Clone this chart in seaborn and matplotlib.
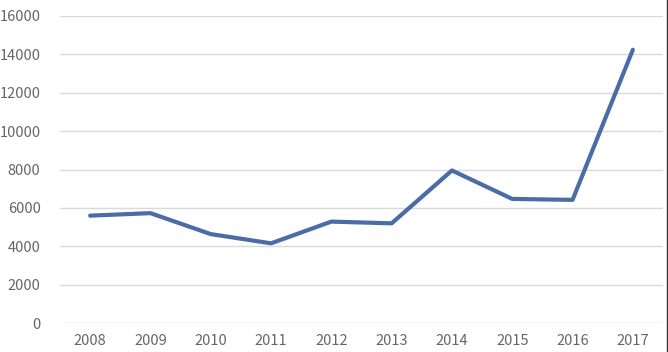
import pandas as pd
import matplotlib.pyplot as plt
import seaborn as sns
from matplotlib.lines import Line2D

years = ["2008", "2009", "2010", "2011", "2012", "2013", "2014", "2015", "2016", "2017"]
values = [5600, 5730, 4640, 4160, 5290, 5200, 7950, 6470, 6420, 14230]
yticks = [0, 2000, 4000, 6000, 8000, 10000, 12000, 14000, 16000]

df = pd.DataFrame({"year": years, "value": values})

sns.set_style("white")
plt.rcParams["font.family"] = ["Noto Sans CJK SC", "DejaVu Sans"]
plt.rcParams["font.weight"] = "light"

fig = plt.figure(figsize=(6.68, 3.52), dpi=100)
ax = fig.add_axes([60 / 668, 1 - 323.3 / 352, 603 / 668, (323.3 - 15.7) / 352])

sns.lineplot(data=df, x="year", y="value", ax=ax, color="#4A6DA6", linewidth=3.0, sort=False)

ax.set_xlim(-0.5, 9.5)
ax.set_ylim(0, 16000)
ax.set_yticks(yticks)
ax.set_yticklabels([str(v) for v in yticks])
ax.grid(axis="y", color="#d9d9d9", linewidth=1.0)
ax.set_axisbelow(True)
for s in ax.spines.values():
    s.set_visible(False)
ax.tick_params(axis="both", length=0, labelsize=10.5, colors="#666666")
ax.tick_params(axis="y", pad=14)
ax.tick_params(axis="x", pad=8)
ax.set_xlabel("")
ax.set_ylabel("")

# dark border at the right edge, as in the screenshot
fig.add_artist(Line2D([666.5 / 668, 666.5 / 668], [0, 1], color="#333333", linewidth=1.0))

fig.savefig("out.png", dpi=100)
